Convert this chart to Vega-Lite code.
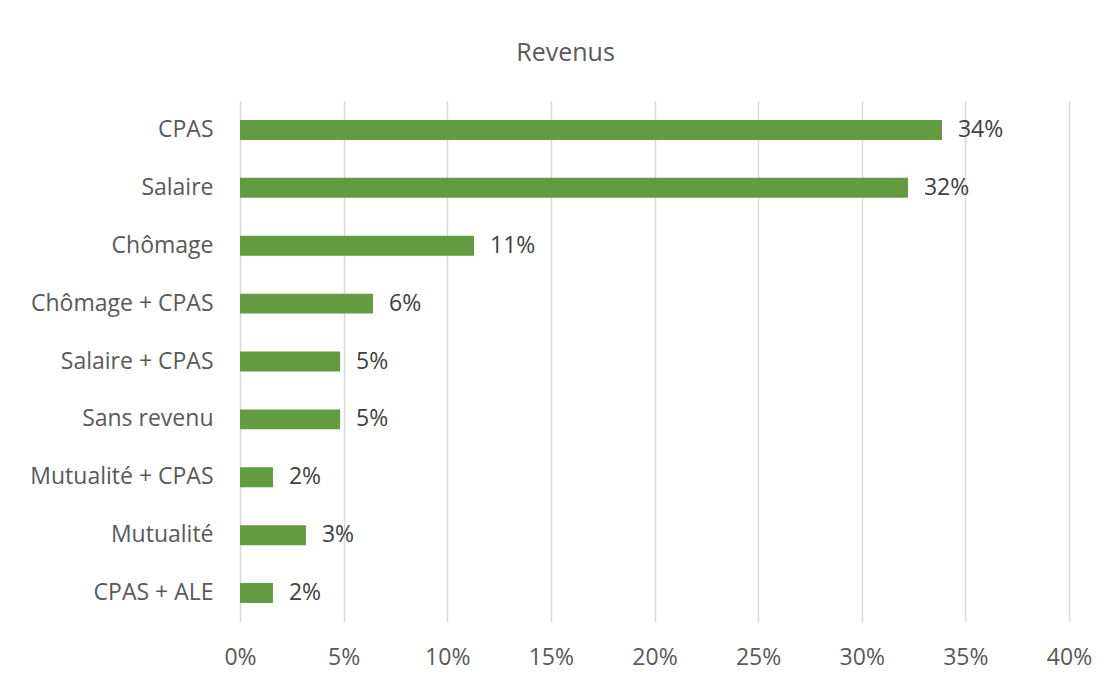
{
  "$schema": "https://vega.github.io/schema/vega-lite/v6.json",
  "autosize": "none",
  "width": 829,
  "height": 521,
  "padding": {"left": 240, "top": 101, "right": 41, "bottom": 60},
  "background": "white",
  "title": {
    "text": "Revenus",
    "anchor": "middle",
    "dx": -89,
    "offset": 15,
    "baseline": "alphabetic",
    "font": "Open Sans",
    "fontSize": 25,
    "fontWeight": "normal",
    "color": "#595959"
  },
  "config": {
    "view": {"stroke": null},
    "font": "Open Sans"
  },
  "data": {
    "values": [
      {"categorie": "CPAS", "part": 0.3387},
      {"categorie": "Salaire", "part": 0.3223},
      {"categorie": "Chômage", "part": 0.1129},
      {"categorie": "Chômage + CPAS", "part": 0.0642},
      {"categorie": "Salaire + CPAS", "part": 0.0483},
      {"categorie": "Sans revenu", "part": 0.0483},
      {"categorie": "Mutualité + CPAS", "part": 0.0159},
      {"categorie": "Mutualité", "part": 0.0318},
      {"categorie": "CPAS + ALE", "part": 0.0159}
    ]
  },
  "encoding": {
    "y": {
      "field": "categorie",
      "type": "nominal",
      "sort": null,
      "scale": {"paddingInner": 0.655, "paddingOuter": 0.3275},
      "axis": {
        "title": null,
        "domain": false,
        "ticks": false,
        "tickSize": 0,
        "grid": false,
        "labelPadding": 27,
        "labelFont": "Open Sans",
        "labelFontSize": 23,
        "labelColor": "#595959",
        "labelLimit": 400
      }
    },
    "x": {
      "field": "part",
      "type": "quantitative",
      "scale": {"domain": [0, 0.4], "nice": false},
      "axis": {
        "title": null,
        "format": ".0%",
        "values": [0, 0.05, 0.1, 0.15, 0.2, 0.25, 0.3, 0.35, 0.4],
        "domain": false,
        "ticks": false,
        "tickSize": 0,
        "grid": true,
        "gridColor": "#d9d9d9",
        "gridWidth": 1.5,
        "labelPadding": 42,
        "labelBaseline": "alphabetic",
        "labelFont": "Open Sans",
        "labelFontSize": 23,
        "labelColor": "#595959",
        "labelFlush": false
      }
    }
  },
  "layer": [
    {"mark": {"type": "bar", "color": "#629b40"}},
    {
      "mark": {
        "type": "text",
        "align": "left",
        "baseline": "middle",
        "dx": 16,
        "font": "Open Sans",
        "fontSize": 23,
        "color": "#404040"
      },
      "encoding": {
        "text": {"field": "part", "type": "quantitative", "format": ".0%"}
      }
    }
  ]
}
